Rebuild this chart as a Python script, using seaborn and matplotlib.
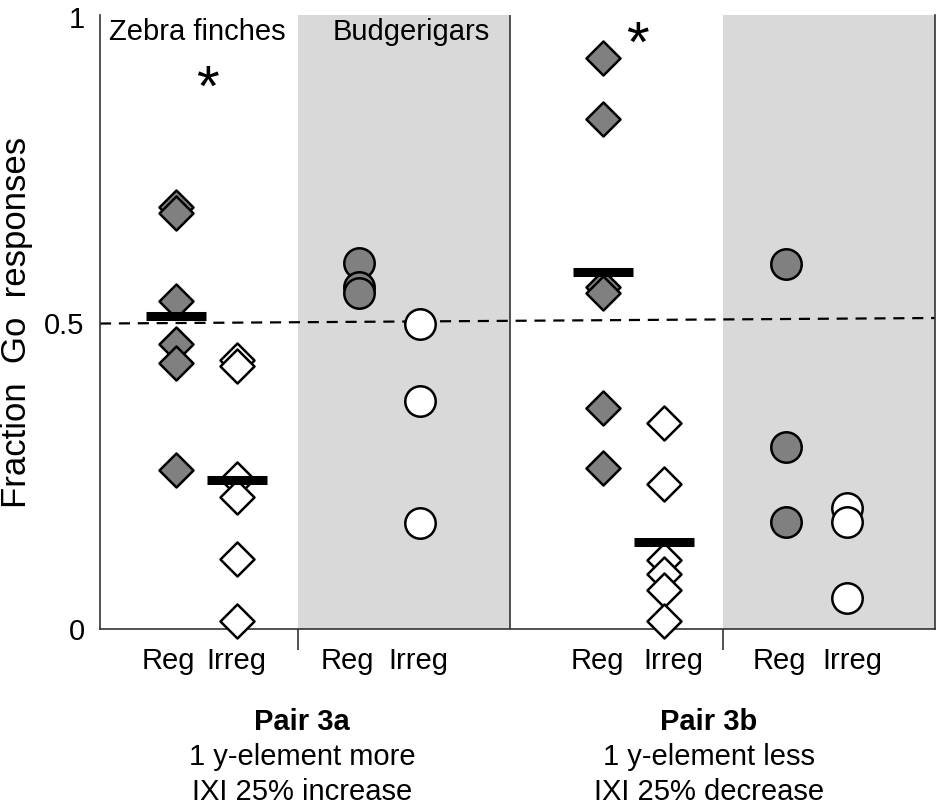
import numpy as np
import pandas as pd
import matplotlib
matplotlib.use("Agg")
import matplotlib.pyplot as plt
import seaborn as sns

# fraction of Go responses per bird
zf_3a_reg = [0.69, 0.68, 0.535, 0.465, 0.435, 0.26]
zf_3a_irreg = [0.44, 0.43, 0.245, 0.215, 0.115, 0.013]
bg_3a_reg = [0.598, 0.559, 0.549]
bg_3a_irreg = [0.498, 0.372, 0.173]
zf_3b_reg = [0.933, 0.833, 0.559, 0.549, 0.361, 0.263]
zf_3b_irreg = [0.337, 0.237, 0.113, 0.090, 0.064, 0.013]
bg_3b_reg = [0.596, 0.297, 0.175]
bg_3b_irreg = [0.198, 0.175, 0.051]

pairs = ["3a", "3a", "3a", "3a", "3b", "3b", "3b", "3b"]
species = ["Zebra finch", "Zebra finch", "Budgerigar", "Budgerigar",
           "Zebra finch", "Zebra finch", "Budgerigar", "Budgerigar"]
conditions = ["Reg", "Irreg", "Reg", "Irreg", "Reg", "Irreg", "Reg", "Irreg"]
groups = [zf_3a_reg, zf_3a_irreg, bg_3a_reg, bg_3a_irreg,
          zf_3b_reg, zf_3b_irreg, bg_3b_reg, bg_3b_irreg]

pair_titles = ["Pair 3a", "Pair 3b"]
pair_lines = [["1 y-element more", "IXI 25% increase"],
              ["1 y-element less", "IXI 25% decrease"]]

# x layout of the groups on the axis
positions = [0, 1, 3, 4, 7, 8, 10, 11]
label_x = [-0.13, 0.98, 2.8, 3.97, 6.9, 8.15, 9.89, 11.08]

rows = []
for p, sp, cond, pos, vals in zip(pairs, species, conditions, positions, groups):
    for v in vals:
        rows.append({"pair": p, "species": sp, "cond": cond, "pos": pos, "frac": v})
df = pd.DataFrame(rows)

sns.set_theme(style="white")
plt.rcParams["font.family"] = ["Liberation Sans", "DejaVu Sans"]
plt.rcParams["text.color"] = "black"
plt.rcParams["axes.labelcolor"] = "black"
plt.rcParams["xtick.color"] = "black"
plt.rcParams["ytick.color"] = "black"

fig = plt.figure(figsize=(9.45, 8.07), dpi=100)
ax = fig.add_axes([100 / 945, 178 / 807, 835 / 945, 614 / 807])

x_lo, x_hi = -1.25, 12.44
ax.set_xlim(x_lo, x_hi)
ax.set_ylim(0, 1.003)

# grey background for the budgerigar panels
ax.axvspan(2.0, 5.48, color="#d9d9d9", lw=0, zorder=0)
ax.axvspan(8.97, x_hi, color="#d9d9d9", lw=0, zorder=0)
ax.axvline(5.48, color="#333333", lw=1.2, zorder=1)

# chance level
ax.plot([x_lo, x_hi], [0.499, 0.508], color="black", lw=1.6,
        ls=(0, (5, 3.5)), zorder=2)

for (sp, cond), sub in df.groupby(["species", "cond"]):
    marker = "D" if sp == "Zebra finch" else "o"
    face = "#808080" if cond == "Reg" else "white"
    size = 300 if marker == "D" else 480
    sns.scatterplot(data=sub, x="pos", y="frac", marker=marker, s=size,
                    color=face, edgecolor="black", linewidth=1.8,
                    ax=ax, zorder=4, clip_on=False, legend=False)

# mean bars for the zebra finches
zf = df[df["species"] == "Zebra finch"]
means = zf.groupby("pos")["frac"].mean()
ax.hlines(means.values, means.index - 0.49, means.index + 0.49,
          color="black", lw=6.5, zorder=5)

ax.text(0.51, 0.855, "*", ha="center", va="baseline", fontsize=42)
ax.text(7.56, 0.926, "*", ha="center", va="baseline", fontsize=42)

ax.text(-1.11, 0.962, "Zebra finches", fontsize=21, va="baseline")
ax.text(2.56, 0.962, "Budgerigars", fontsize=21, va="baseline")

ax.set_yticks([0, 0.5, 1])
ax.set_yticklabels(["0", "0.5", "1"])
ax.set_xticks(label_x)
ax.set_xticklabels(conditions)
ax.set_xticks([2.0, 8.97], minor=True)
ax.tick_params(axis="y", length=0, pad=11, labelsize=21)
ax.tick_params(axis="x", which="major", length=0, pad=13, labelsize=21)
ax.tick_params(axis="x", which="minor", length=15, width=1.2,
               color="#333333", bottom=True)
ax.set_xlabel("")
ax.set_ylabel("Fraction  Go  responses", fontsize=25, labelpad=8)

for side in ["left", "bottom", "right"]:
    ax.spines[side].set_visible(True)
    ax.spines[side].set_color("#333333")
    ax.spines[side].set_linewidth(1.2)
ax.spines["top"].set_visible(False)

for cx, title, lines in zip([302 / 945, 709 / 945], pair_titles, pair_lines):
    fig.text(cx, 1 - 722 / 807, title, ha="center", va="center",
             fontsize=21, fontweight="bold")
    fig.text(cx, 1 - 757 / 807, lines[0], ha="center", va="center", fontsize=21)
    fig.text(cx, 1 - 792 / 807, lines[1], ha="center", va="center", fontsize=21)

fig.savefig("out.png", dpi=100)
